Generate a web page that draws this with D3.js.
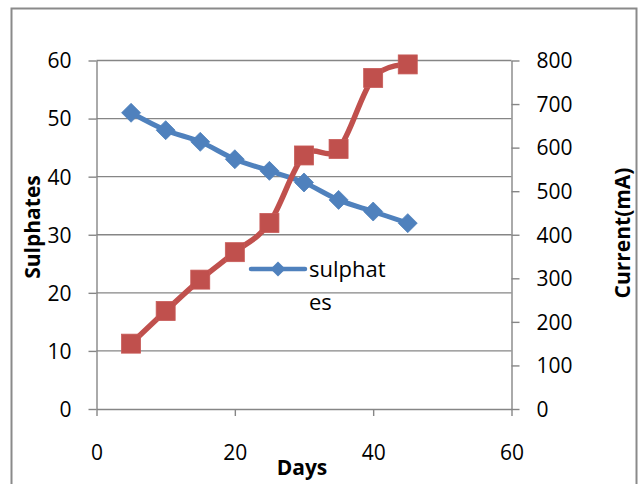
<!DOCTYPE html>
<html><head><meta charset="utf-8">
<script src="https://cdn.jsdelivr.net/npm/d3@7"></script>
<style>
html,body{margin:0;padding:0;background:#fff;}
svg text{font-family:"Open Sans",sans-serif;fill:#000;}
</style></head>
<body><svg id="c" width="643" height="484"></svg>
<script>
const days = [5, 10, 15, 20, 25, 30, 35, 40, 45];
const sulphates = [51, 48, 46, 43, 41, 39, 36, 34, 32];
const current = [150, 225, 297, 360, 427, 582, 597, 760, 791];
const xTicks = [0, 20, 40, 60];
const leftTicks = [0, 10, 20, 30, 40, 50, 60];
const rightTicks = [0, 100, 200, 300, 400, 500, 600, 700, 800];
const xTitle = "Days", leftTitle = "Sulphates", rightTitle = "Current(mA)";
const legendLines = ["sulphat", "es"];

const svg = d3.select("#c");
const L = 96.5, R = 511.5, T = 60.5, B = 409;
const x = d3.scaleLinear().domain([0, 60]).range([L, R]);
const yL = d3.scaleLinear().domain([0, 60]).range([B, T]);
const yR = d3.scaleLinear().domain([0, 800]).range([B, T]);
const grey = "#868686", blue = "#4F81BD", red = "#C0504D";

// outer border
svg.append("rect").attr("x", 11.5).attr("y", 8.5).attr("width", 625).attr("height", 490)
  .attr("fill", "none").attr("stroke", "#8a8a8a").attr("stroke-width", 2);

// gridlines
svg.append("g").selectAll("line").data(leftTicks.filter(d => d > 0)).join("line")
  .attr("x1", L).attr("x2", R).attr("y1", d => yL(d)).attr("y2", d => yL(d))
  .attr("stroke", grey).attr("stroke-width", 1.4);

function styleAxis(g) {
  g.select(".domain").attr("stroke", grey).attr("stroke-width", 1.4);
  g.selectAll(".tick line").attr("stroke", grey).attr("stroke-width", 1.4);
  g.selectAll("text").style("font-family", "Open Sans").style("font-size", "21px").attr("fill", "#000");
}
// left axis
svg.append("g").attr("transform", `translate(${L},0)`)
  .call(d3.axisLeft(yL).tickValues(leftTicks).tickSize(8).tickSizeOuter(0).tickPadding(17))
  .call(styleAxis).call(g => g.selectAll("text").attr("dy", "0.35em"));
// right axis
svg.append("g").attr("transform", `translate(${R},0)`)
  .call(d3.axisRight(yR).tickValues(rightTicks).tickSize(8).tickSizeOuter(0).tickPadding(17))
  .call(styleAxis).call(g => g.selectAll("text").attr("dy", "0.35em"));
// bottom axis
svg.append("g").attr("transform", `translate(0,${B})`)
  .call(d3.axisBottom(x).tickValues(xTicks).tickSize(7).tickSizeOuter(0).tickPadding(28))
  .call(styleAxis).call(g => g.selectAll("text").attr("dy", "0.35em").attr("y", 44));

// titles
svg.append("text").attr("x", 302).attr("y", 475).attr("text-anchor", "middle")
  .style("font-size", "21px").style("font-weight", "bold").text(xTitle);
svg.append("text").attr("transform", "translate(40,227) rotate(-90)").attr("text-anchor", "middle")
  .style("font-size", "21px").style("font-weight", "bold").text(leftTitle);
svg.append("text").attr("transform", "translate(630,233) rotate(-90)").attr("text-anchor", "middle")
  .style("font-size", "21px").style("font-weight", "bold").text(rightTitle);

// sulphates series
const curve = d3.curveCatmullRom.alpha(0);
const lineS = d3.line().x((d, i) => x(days[i])).y(d => yL(d)).curve(curve);
svg.append("path").datum(sulphates).attr("d", lineS).attr("fill", "none")
  .attr("stroke", blue).attr("stroke-width", 5).attr("stroke-linejoin", "round");
const dSize = 9.5;
svg.append("g").selectAll("path").data(sulphates).join("path")
  .attr("d", (d, i) => { const cx = x(days[i]), cy = yL(d);
    return `M${cx},${cy - dSize}L${cx + dSize},${cy}L${cx},${cy + dSize}L${cx - dSize},${cy}Z`; })
  .attr("fill", blue).attr("stroke", blue).attr("stroke-width", 0.8);

// current series
const lineC = d3.line().x((d, i) => x(days[i])).y(d => yR(d)).curve(curve);
svg.append("path").datum(current).attr("d", lineC).attr("fill", "none")
  .attr("stroke", red).attr("stroke-width", 5.5).attr("stroke-linejoin", "round");
const sq = 19;
svg.append("g").selectAll("rect").data(current).join("rect")
  .attr("x", (d, i) => x(days[i]) - sq / 2).attr("y", d => yR(d) - sq / 2)
  .attr("width", sq).attr("height", sq).attr("fill", red).attr("stroke", "#c85a57").attr("stroke-width", 0.8);

// legend
const lg = svg.append("g");
lg.append("line").attr("x1", 251).attr("x2", 305).attr("y1", 269).attr("y2", 269)
  .attr("stroke", blue).attr("stroke-width", 4.5).attr("stroke-linecap", "round");
const ls = 7.5, lx = 278, ly = 269;
lg.append("path").attr("d", `M${lx},${ly - ls}L${lx + ls},${ly}L${lx},${ly + ls}L${lx - ls},${ly}Z`).attr("fill", blue);
lg.selectAll("text").data(legendLines).join("text")
  .attr("x", 309).attr("y", (d, i) => 277 + i * 33)
  .style("font-size", "22px").text(d => d);
</script></body></html>
